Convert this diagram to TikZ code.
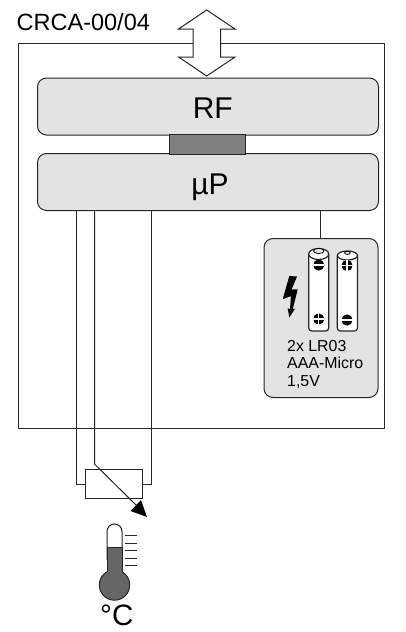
\documentclass[tikz,border=0pt]{standalone}
\usepackage{fontspec}
\setmainfont{Liberation Sans}
\usetikzlibrary{calc,arrows.meta}
\definecolor{boxgray}{gray}{0.89}
\definecolor{linkgray}{gray}{0.5}
\definecolor{mercury}{gray}{0.4}
\tikzset{
  ln/.style={line width=1pt,draw=black!85},
  block/.style={ln,fill=boxgray,rounded corners=9pt,minimum width=341pt,minimum height=57pt,inner sep=0pt},
  blocktext/.style={inner sep=0pt,font=\fontsize{30}{30}\selectfont},
  wire/.style={ln,line join=miter},
  battery/.style={line width=1.2pt,draw=black!85,fill=white,rounded corners=3pt},
  caption/.style={anchor=base west,inner sep=0pt,font=\fontsize{15.9}{16}\selectfont},
}
\begin{document}
\begin{tikzpicture}[x=1pt,y=-1pt]
\useasboundingbox (0,0) rectangle (406,632);
% frame
\node[ln,draw,anchor=north west,minimum width=366pt,minimum height=385pt,inner sep=0pt] (frame) at (18,43) {};
\node[anchor=base west,inner sep=0pt,font=\fontsize{23.5}{24}\selectfont] (title) at (16.5,30) {CRCA-00/04};
% bidirectional arrow
\draw[ln,fill=white,line join=miter] (206.7,10) -- (235,29) -- (220.7,29) -- (220.7,57) -- (235,57) -- (206.7,76) -- (178.5,57) -- (193,57) -- (193,29) -- (178.5,29) -- cycle;
% blocks
\node[block,draw,anchor=north west] (rf) at (37,77.5) {};
\node[block,draw,anchor=north west] (up) at (37,153) {};
\node[blocktext,anchor=base] (rftext) at (212.8,118) {RF};
\node[blocktext,anchor=base] (uptext) at (210,194.5) {µP};
\node[ln,draw,fill=linkgray,anchor=north west,minimum width=76pt,minimum height=19.5pt,inner sep=0pt] (link) at (169,134) {};
% resistor
\node[ln,draw,fill=white,anchor=north west,minimum width=57pt,minimum height=29pt,inner sep=0pt] (res) at (85,469) {};
\coordinate (wa) at (76,210);
\coordinate (wb) at (94.5,210);
\coordinate (wc) at (151.5,210);
\coordinate (tip) at (147,517);
\draw[wire] (wa) -- (wa |- res.west) -- (res.west);
\draw[wire] (wc) -- (wc |- res.east) -- (res.east);
\draw[wire] (wb) -- (94.5,464) -- (136,505);
\fill[black] (tip) -- (130.5,511) -- (141,500) -- cycle;
% battery box
\node[ln,draw,fill=boxgray,rounded corners=9pt,anchor=north west,minimum width=114pt,minimum height=159pt,inner sep=0pt] (bat) at (263.5,238) {};
\draw[wire] (bat.north -| 320,0) -- (320,210);
% cells
\draw[battery] (308.7,254) -- (308.7,331) -- (328.7,331) -- (328.7,254);
\draw[line width=1.2pt,draw=black!85,fill=white] (318.7,254) ellipse (10pt and 5.5pt);
\draw[line width=0.8pt,fill=boxgray] (318.7,251) ellipse (5.3pt and 2.6pt);
\draw[battery] (337.3,255.5) -- (337.3,331) -- (357.5,331) -- (357.5,255.5);
\draw[line width=1.2pt,draw=black!85,fill=white] (347.4,255.5) ellipse (10.1pt and 4.5pt);
\draw[line width=0.8pt,fill=boxgray] (347.4,252.8) ellipse (2.8pt and 1.6pt);
\coordinate (b1) at (318.7,265);
\coordinate (b2) at (318.7,319);
\coordinate (b3) at (347,265.5);
\coordinate (b4) at (347,320);
\fill (b1) circle (5.6pt);
\draw[white,line width=1.2pt] ($(b1)+(-5.6,0)$) -- ($(b1)+(5.6,0)$);
\fill (b4) circle (5.6pt);
\draw[white,line width=1.2pt] ($(b4)+(-5.6,0)$) -- ($(b4)+(5.6,0)$);
\fill (b2) circle (5.6pt);
\draw[white,line width=1.2pt] ($(b2)+(-5.6,0)$) -- ($(b2)+(5.6,0)$) ($(b2)+(0,-5.6)$) -- ($(b2)+(0,5.6)$);
\fill (b3) circle (5.6pt);
\draw[white,line width=1.2pt] ($(b3)+(-5.6,0)$) -- ($(b3)+(5.6,0)$) ($(b3)+(0,-5.6)$) -- ($(b3)+(0,5.6)$);
% lightning
\fill (289.3,276) -- (297,276.5) -- (291.7,289.3) -- (297.7,289.3) -- (292.7,309.3) -- (295,308.7) -- (289.3,317.5) -- (287.7,308.3) -- (290,309) -- (291,296) -- (282.7,299.3) -- cycle;
% captions
\node[caption] (c1) at (287,351) {2x LR03};
\node[caption] (c2) at (287,368.5) {AAA-Micro};
\node[caption] (c3) at (287,386) {1,5V};
% thermometer
\draw[ln,fill=white] (107,560) -- (107,531.5) arc (180:0:7.5pt) -- (122,560);
\path[ln,draw,fill=mercury] (114.5,585) circle (15.2pt);
\fill[mercury] (107,547) rectangle (122,578);
\draw[ln] (107,547) -- (122,547);
\draw[ln] (107,547) -- (107,572);
\draw[ln] (122,547) -- (122,572);
\foreach \yy in {535,543,550.5,558,565.7} \draw[line width=0.8pt,black!85] (125,\yy) -- (137,\yy);
\node[anchor=base west,inner sep=0pt,font=\fontsize{29.5}{30}\selectfont] (deg) at (100,625.5) {°C};
\end{tikzpicture}
\end{document}
